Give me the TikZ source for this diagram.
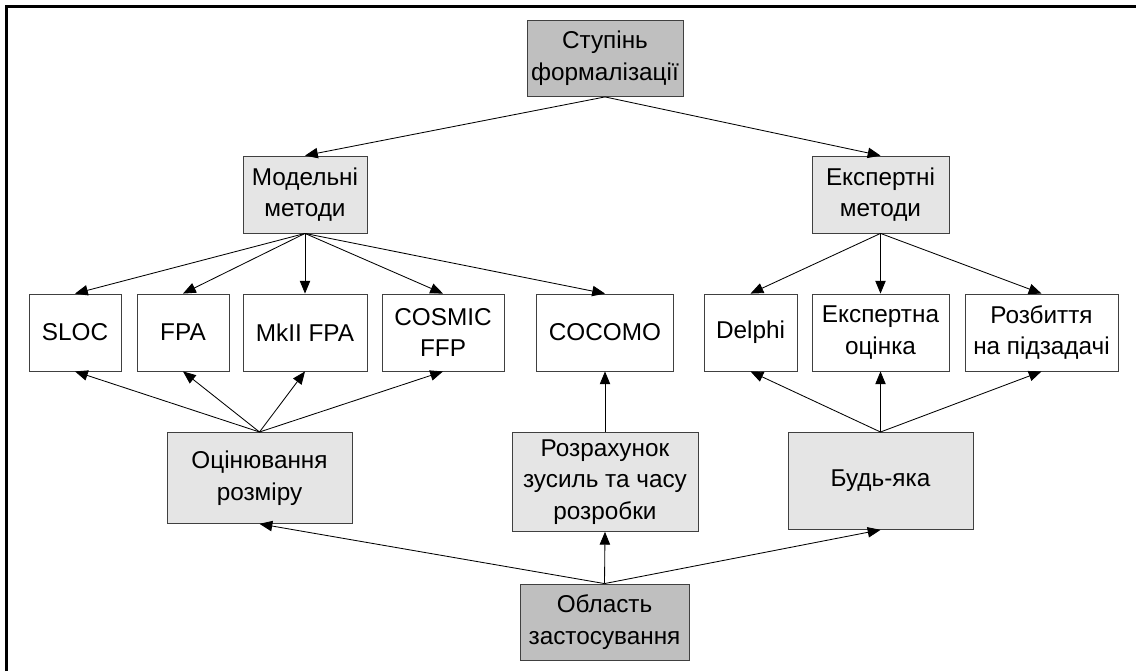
\documentclass[tikz,border=0pt]{standalone}
\usepackage{fontspec}
\setmainfont{Liberation Sans}
\usetikzlibrary{arrows.meta}
\begin{document}
\begin{tikzpicture}[x=0.025cm,y=-0.025cm,>={Triangle[length=0.32cm,width=0.26cm]},
	font=\fontsize{17.3}{22.5}\selectfont,
	box/.style={draw=black!75,line width=0.6pt,align=center,inner sep=0pt},
	dark/.style={box,fill=black!25},
	light/.style={box,fill=black!10},
	plain/.style={box,fill=white},
	sz/.style 2 args={minimum width=#1*0.025cm,minimum height=#2*0.025cm},
	link/.style={->,line width=0.6pt}]
	\useasboundingbox (0,0) rectangle (1136,671);
	\draw[line width=0.075cm] (6.5,671) -- (6.5,6.5) -- (1136,6.5);
	% levels
	\node[dark,sz={156}{76}] (form) at (605,58.5) {Ступінь\\формалізації};
	\node[light,sz={124}{77}] (model) at (305,194.5) {Модельні\\методи};
	\node[light,sz={137}{77}] (expert) at (880.5,194.5) {Експертні\\методи};
	% methods
	\node[plain,sz={92}{77}] (sloc) at (75,332.5) {SLOC};
	\node[plain,sz={92}{77}] (fpa) at (183,332.5) {FPA};
	\node[plain,sz={124}{77}] (mkii) at (305,332.5) {MkII FPA};
	\node[plain,sz={122}{77}] (cosmic) at (443,332.5) {COSMIC\\FFP};
	\node[plain,sz={137}{77}] (cocomo) at (605,332.5) {COCOMO};
	\node[plain,sz={93}{77}] (delphi) at (750.5,332.5) {Delphi};
	\node[plain,sz={137}{77}] (estim) at (880.5,332.5) {Експертна\\оцінка};
	\node[plain,sz={153}{77}] (split) at (1041.5,332.5) {Розбиття\\на підзадачі};
	% tasks
	\node[light,sz={185}{91},anchor=north] (size) at (259.5,432) {Оцінювання\\розміру};
	\node[light,sz={186}{99},anchor=north] (effort) at (605,432) {Розрахунок\\зусиль та часу\\розробки};
	\node[light,sz={185}{97},anchor=north] (any) at (880.5,432) {Будь-яка};
	\node[dark,sz={169}{76}] (area) at (604.5,622) {Область\\застосування};
	% connectors
	\foreach \a/\b in {form/model,form/expert,model/sloc,model/fpa,model/mkii,model/cosmic,model/cocomo,expert/delphi,expert/estim,expert/split}
	\draw[link] (\a.south) -- (\b.north);
	\foreach \a/\b in {size/sloc,size/fpa,size/mkii,size/cosmic,effort/cocomo,any/delphi,any/estim,any/split,area/size,area/effort,area/any}
	\draw[link] (\a.north) -- (\b.south);
\end{tikzpicture}
\end{document}
